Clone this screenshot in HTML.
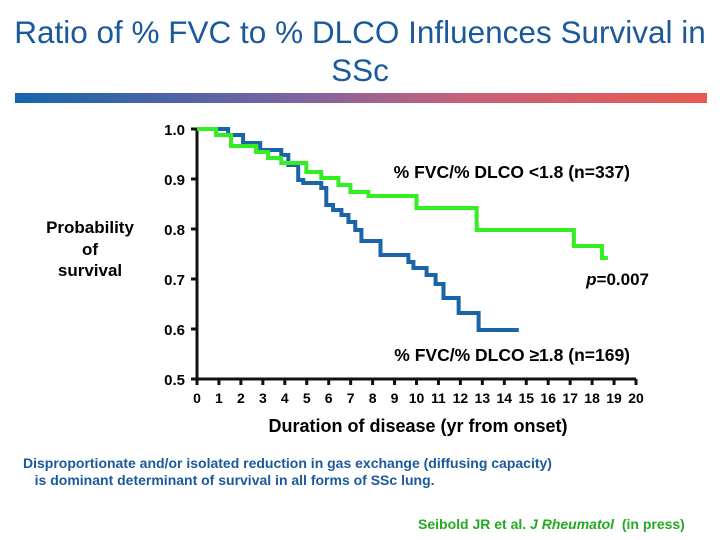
<!DOCTYPE html>
<html><head><meta charset="utf-8"><style>
html,body{margin:0;padding:0;background:#fff;}
#root{position:relative;width:720px;height:540px;overflow:hidden;font-family:"Liberation Sans",Arial,sans-serif;}
.t{position:absolute;white-space:nowrap;}
</style></head><body>
<div id="root">
<div class="t" style="left:0;width:720px;top:13px;text-align:center;font-size:31.5px;line-height:38px;color:#1a5a9c;">Ratio of % FVC to % DLCO Influences Survival in<br>SSc</div>
<div style="position:absolute;left:15px;top:93px;width:692px;height:10px;background:linear-gradient(90deg,#1565ad,#7a64a0 40%,#c8607a 65%,#e85a50);"></div>
<div class="t" style="left:30px;width:120px;top:217px;text-align:center;font-size:17px;font-weight:bold;line-height:21.5px;">Probability<br>of<br>survival</div>
<svg id="chart" width="720" height="540" style="position:absolute;left:0;top:0;font-family:'Liberation Sans',Arial,sans-serif;"></svg>
<div class="t" style="left:23px;top:455px;font-size:14px;font-weight:bold;color:#1a5a9c;line-height:17px;">Disproportionate and/or isolated reduction in gas exchange (diffusing capacity)<br>&nbsp;&nbsp;&nbsp;is dominant determinant of survival in all forms of SSc lung.</div>
<div class="t" style="left:418px;top:516px;font-size:14px;font-weight:bold;color:#22aa22;">Seibold JR et al. <i>J Rheumatol</i>&nbsp; (in press)</div>
</div>
<script>
const xTicks=[0,1,2,3,4,5,6,7,8,9,10,11,12,13,14,15,16,17,18,19,20];
const yTicks=[0.5,0.6,0.7,0.8,0.9,1.0];
const yTickLabels=["0.5","0.6","0.7","0.8","0.9","1.0"];
const lowTimes=[0,0.87,1.55,2.69,3.24,3.84,4.98,5.66,6.44,6.99,7.81,10.0,12.74,17.17,18.45,18.72];
const lowSurv=[1.0,0.988,0.966,0.954,0.942,0.932,0.914,0.902,0.888,0.874,0.866,0.842,0.798,0.766,0.742,0.742];
const highTimes=[0,1.42,2.1,2.88,3.84,4.16,4.61,4.84,5.66,5.89,6.2,6.58,6.9,7.21,7.49,8.36,9.63,9.86,10.46,10.87,11.23,11.92,12.83,14.66];
const highSurv=[1.0,0.988,0.972,0.958,0.948,0.928,0.898,0.892,0.882,0.848,0.838,0.828,0.814,0.798,0.776,0.748,0.734,0.722,0.708,0.69,0.662,0.632,0.598,0.598];
const NS='http://www.w3.org/2000/svg';
const svg=document.getElementById('chart');
const X=t=>197+t*21.95;
const Y=s=>379-(s-0.5)*500;
function mk(tag,attrs){const e=document.createElementNS(NS,tag);for(const k in attrs)e.setAttribute(k,attrs[k]);svg.appendChild(e);return e;}
let ax=mk('path',{d:`M${X(0)},${Y(1.0)}V${Y(0.5)}H${X(20)}`,stroke:'#111',fill:'none','stroke-width':3});


yTicks.forEach((v,i)=>{
  const l=mk('line',{x1:X(0)-6,x2:X(0),y1:Y(v),y2:Y(v),stroke:'#111','stroke-width':3});
  
  
  const t=mk('text',{x:185,y:Y(v)+6,'text-anchor':'end','font-size':15,'font-weight':'bold'});
  t.textContent=yTickLabels[i];
  
  
});
xTicks.forEach(v=>{
  const l=mk('line',{x1:X(v),x2:X(v),y1:Y(0.5),y2:Y(0.5)+6,stroke:'#111','stroke-width':3});
  
  
  const t=mk('text',{x:X(v),y:403,'text-anchor':'middle','font-size':14,'font-weight':'bold'});
  t.textContent=String(v);
  
  
});
function step(ts,ss){let d=`M${X(ts[0])},${Y(ss[0])}`;for(let i=1;i<ts.length;i++){d+=`H${X(ts[i])}V${Y(ss[i])}`;}return d;}
let hp=mk('path',{d:step(highTimes,highSurv),stroke:'#1a64a8',fill:'none','stroke-width':4});


let lp=mk('path',{d:step(lowTimes,lowSurv),stroke:'#33ee22',fill:'none','stroke-width':4});


function txt(x,y,s,name,extra){const t=mk('text',Object.assign({x:x,y:y,'font-size':16,'font-weight':'bold'},extra||{}));t.innerHTML=s;return t;}
txt(630,178,'% FVC/% DLCO &lt;1.8 (n=337)','label-low',{'text-anchor':'end','font-size':17.5});
txt(630,361,'% FVC/% DLCO ≥1.8 (n=169)','label-high',{'text-anchor':'end','font-size':17.5});
txt(649,285,'<tspan font-style="italic">p</tspan>=0.007','p-value',{'text-anchor':'end','font-size':17});
txt(418,432,'Duration of disease (yr from onset)','x-axis-title',{'text-anchor':'middle','font-size':18});
</script>
</body></html>
